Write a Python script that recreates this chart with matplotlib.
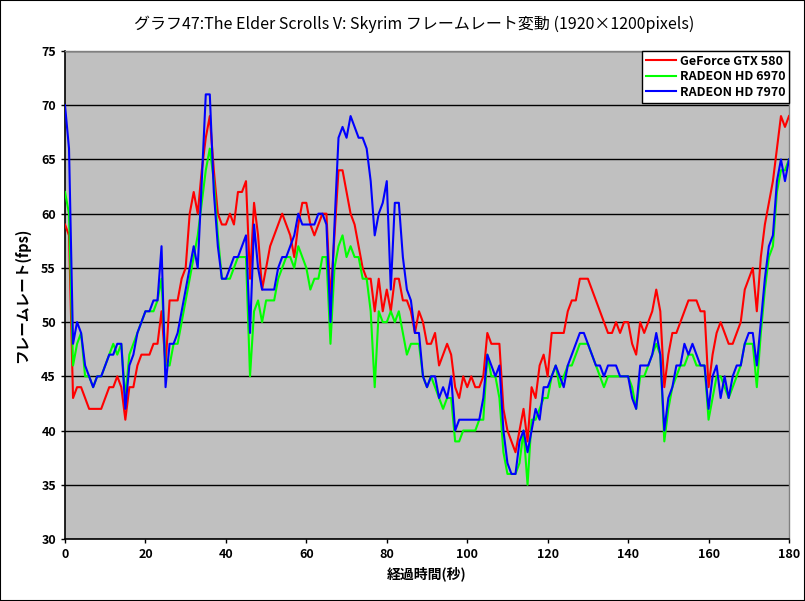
import matplotlib
matplotlib.use("Agg")
import matplotlib.pyplot as plt
from matplotlib.patches import Rectangle

plt.rcParams['font.family'] = ['Noto Sans CJK JP', 'DejaVu Sans']

# 経過時間(秒) 0..180
seconds = list(range(181))

gtx580 = [59, 58, 43, 44, 44, 43, 42, 42, 42, 42, 43, 44, 44, 45, 44, 41, 44, 44, 46, 47,
          47, 47, 48, 48, 51, 46, 52, 52, 52, 54, 55, 60, 62, 60, 64, 67, 69, 64, 60, 59,
          59, 60, 59, 62, 62, 63, 54, 61, 58, 53, 55, 57, 58, 59, 60, 59, 58, 56, 59, 61,
          61, 59, 58, 59, 60, 60, 52, 58, 64, 64, 62, 60, 59, 57, 55, 54, 54, 51, 54, 51,
          53, 51, 54, 54, 52, 52, 51, 49, 51, 50, 48, 48, 49, 46, 47, 48, 47, 44, 43, 45,
          44, 45, 44, 44, 45, 49, 48, 48, 48, 42, 40, 39, 38, 40, 42, 39, 44, 43, 46, 47,
          45, 49, 49, 49, 49, 51, 52, 52, 54, 54, 54, 53, 52, 51, 50, 49, 49, 50, 49, 50,
          50, 48, 47, 50, 49, 50, 51, 53, 51, 44, 47, 49, 49, 50, 51, 52, 52, 52, 51, 51,
          44, 47, 49, 50, 49, 48, 48, 49, 50, 53, 54, 55, 51, 56, 59, 61, 63, 66, 69, 68,
          69]

hd6970 = [62, 60, 46, 48, 49, 45, 45, 44, 45, 45, 46, 47, 48, 47, 48, 43, 47, 48, 49, 50,
          51, 51, 51, 52, 54, 46, 46, 48, 48, 50, 52, 54, 56, 58, 61, 64, 66, 63, 58, 54,
          54, 54, 55, 56, 56, 56, 45, 51, 52, 50, 52, 52, 52, 54, 55, 56, 56, 55, 57, 56,
          55, 53, 54, 54, 56, 56, 48, 55, 57, 58, 56, 57, 56, 56, 54, 54, 51, 44, 51, 50,
          50, 51, 50, 51, 49, 47, 48, 48, 48, 45, 44, 45, 44, 43, 42, 43, 43, 39, 39, 40,
          40, 40, 40, 41, 41, 47, 45, 45, 43, 38, 36, 36, 36, 37, 40, 35, 41, 41, 42, 43,
          43, 45, 46, 44, 45, 46, 46, 47, 48, 48, 48, 47, 46, 45, 44, 45, 45, 45, 45, 45,
          45, 44, 42, 45, 45, 46, 47, 48, 47, 39, 42, 44, 45, 46, 46, 47, 47, 46, 46, 46,
          41, 43, 45, 45, 44, 43, 44, 45, 46, 48, 48, 48, 44, 49, 53, 56, 57, 62, 64, 64,
          65]

hd7970 = [70, 66, 48, 50, 49, 46, 45, 44, 45, 45, 46, 47, 47, 48, 48, 42, 46, 47, 49, 50,
          51, 51, 52, 52, 57, 44, 48, 48, 49, 51, 53, 55, 57, 55, 63, 71, 71, 62, 57, 54,
          54, 55, 56, 56, 57, 58, 49, 59, 55, 53, 53, 53, 53, 55, 56, 56, 57, 58, 60, 59,
          59, 59, 59, 60, 60, 59, 50, 59, 67, 68, 67, 69, 68, 67, 67, 66, 63, 58, 60, 61,
          63, 53, 61, 61, 56, 53, 52, 49, 49, 45, 44, 45, 45, 43, 44, 43, 45, 40, 41, 41,
          41, 41, 41, 41, 43, 47, 46, 45, 46, 40, 37, 36, 36, 39, 40, 38, 40, 42, 41, 44,
          44, 45, 46, 45, 44, 46, 47, 48, 49, 49, 48, 47, 46, 46, 45, 46, 46, 46, 45, 45,
          45, 43, 42, 46, 46, 46, 47, 49, 47, 40, 43, 44, 46, 46, 48, 47, 48, 47, 46, 46,
          42, 45, 46, 43, 45, 43, 45, 46, 46, 48, 49, 49, 46, 50, 54, 57, 58, 63, 65, 63,
          65]

series_names = ['GeForce GTX 580', 'RADEON HD 6970', 'RADEON HD 7970']
series_colors = ['#FF0000', '#00FF00', '#0000FF']

fig = plt.figure(figsize=(8.05, 6.01), dpi=100)
ax = fig.add_axes([65 / 805, 1 - 539 / 601, (789 - 65) / 805, (539 - 51) / 601])
ax.set_facecolor('#C0C0C0')

for name, vals, col in zip(series_names, [gtx580, hd6970, hd7970], series_colors):
    ax.plot(seconds, vals, color=col, linewidth=1.5, label=name, zorder=3)

ax.set_xlim(0, 180)
ax.set_ylim(30, 75)
ax.set_xticks(range(0, 181, 20))
ax.set_yticks(range(30, 76, 5))
ax.yaxis.grid(True, color='black', linewidth=1.0, zorder=1)
ax.set_axisbelow(True)
ax.tick_params(direction='out', length=3, width=1, labelsize=9, colors='black')
for lab in ax.get_xticklabels() + ax.get_yticklabels():
    lab.set_fontweight('bold')

for side in ['left', 'bottom']:
    ax.spines[side].set_color('black')
    ax.spines[side].set_linewidth(1.2)
for side in ['top', 'right']:
    ax.spines[side].set_color('#808080')
    ax.spines[side].set_linewidth(1.0)

ax.set_xlabel('経過時間(秒)', fontsize=10, fontweight='bold', labelpad=4)
ax.set_ylabel('フレームレート(fps)', fontsize=10.5, fontweight='bold', labelpad=8)

fig.text(0.515, 1 - 24 / 601, 'グラフ47:The Elder Scrolls V: Skyrim フレームレート変動 (1920×1200pixels)',
         ha='center', va='center', fontsize=11.5)

leg = ax.legend(loc='upper right', borderaxespad=0, fancybox=False, framealpha=1,
                edgecolor='black', facecolor='white', handlelength=2.4, handletextpad=0.3,
                labelspacing=0.2, borderpad=0.3,
                prop={'weight': 'bold', 'size': 9})
leg.get_frame().set_linewidth(1.0)
leg.set_zorder(5)

fig.add_artist(Rectangle((0, 0), 1, 1, transform=fig.transFigure, fill=False,
                         edgecolor='black', linewidth=1.5))

plt.savefig('out.png', dpi=100)
